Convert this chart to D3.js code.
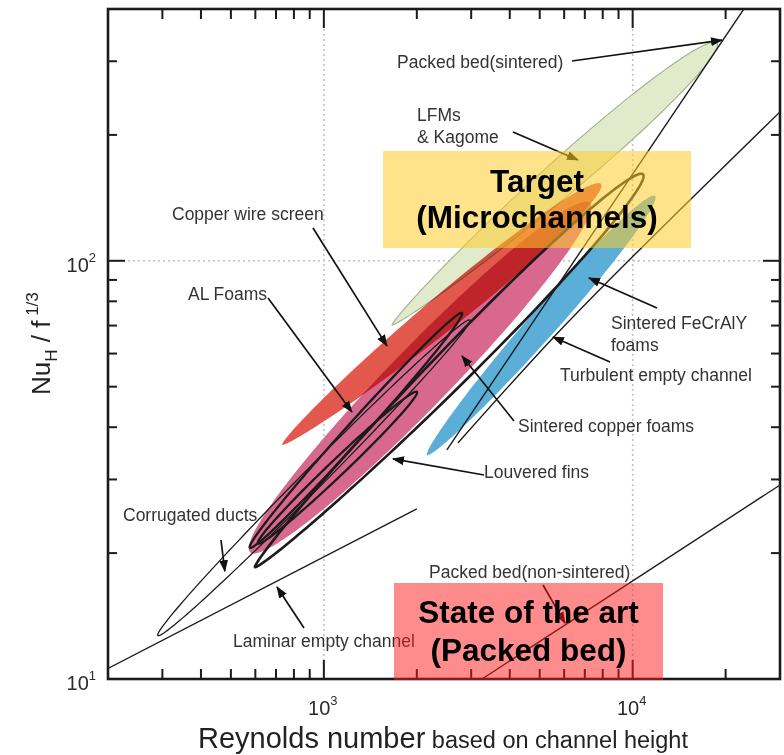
<!DOCTYPE html>
<html>
<head>
<meta charset="utf-8">
<script src="https://cdn.jsdelivr.net/npm/d3@7"></script>
<style>
  html, body { margin: 0; padding: 0; background: #fff; }
  svg { display: block; font-family: "Liberation Sans", Arial, Helvetica, sans-serif; }
</style>
</head>
<body>
<svg id="chart" width="784" height="755"></svg>
<script>
// ---- Axes ----------------------------------------------------------------
const reDomain = [200, 30000];          // Reynolds number
const nuDomain = [10, 400];             // Nu_H / f^(1/3)

const reMajorTicks = [1000, 10000];
const reMinorTicks = [300, 400, 500, 600, 700, 800, 900,
                      2000, 3000, 4000, 5000, 6000, 7000, 8000, 9000, 20000];
const nuMajorTicks = [100];
const nuMinorTicks = [20, 30, 40, 50, 60, 70, 80, 90, 200, 300];
const reTickLabels = [{ v: 1000, base: "10", exp: "3" }, { v: 10000, base: "10", exp: "4" }];
const nuTickLabels = [{ v: 100, base: "10", exp: "2" }, { v: 10, base: "10", exp: "1" }];
const gridRe = [1000, 10000];
const gridNu = [100];

// ---- Shaded performance regions (lower tip, upper tip, half-thickness in decades)
const filledNames  = ["Sintered copper foams", "Copper wire screen", "LFMs & Kagome", "Sintered FeCrAlY foams"];
const filledReLow  = [577, 732, 1662, 2157];
const filledNuLow  = [20.1, 36.3, 70.2, 34.3];
const filledReHigh = [7270, 7895, 18750, 11810];
const filledNuHigh = [137.5, 152.6, 331.8, 142.9];
const filledSpread = [0.072, 0.042, 0.043, 0.034];

// ---- Outlined regions
const outlineNames  = ["Corrugated ducts", "Louvered fins", "Al foams (high Re)", "Al foams"];
const outlineReLow  = [290, 598, 576, 612];
const outlineNuLow  = [12.7, 18.5, 20.6, 21.1];
const outlineReHigh = [2972, 10800, 2801, 2002];
const outlineNuHigh = [72.2, 161, 75.0, 48.6];
const outlineSpread = [0.025, 0.045, 0.0215, 0.019];

// ---- Correlation lines
const laminarRe = [200, 2000];
const laminarNu = [10.6, 25.5];
const turbulentRe = [2719, 5520, 15330, 30000];
const turbulentNu = [36.7, 65.4, 139.8, 227];
const packedSinteredRe = [2503, 25000];
const packedSinteredNu = [35.3, 440];
const packedLooseRe = [3251, 30000];
const packedLooseNu = [10, 29.1];

// ---- Styles (shape taper: 1 = ellipse, >1 = fuller toward the high-Re end)
const filledColors = ["#d8688e", "#e2584d", "#e1eacb", "#5aaed7"];
const filledStroke = ["none", "none", "#a3b08e", "none"];
const filledTaper = [1.0, 1.3, 1.4, 1.15];
const outlineWidths = [1.3, 2.6, 2.3, 2.3];
const outlineTaper = [1.0, 1.3, 1.0, 1.0];

// ---- Layout
const plot = { left: 108, right: 780, top: 9, bottom: 679 };
const svg = d3.select("#chart");
const x = d3.scaleLog().domain(reDomain).range([plot.left, plot.right]);
const y = d3.scaleLog().domain(nuDomain).range([plot.bottom, plot.top]);
const pxPerDecade = y(10) - y(100);
const ink = "#1b1b1b";
const textInk = "#333";

const defs = svg.append("defs");
defs.append("clipPath").attr("id", "plotClip").append("rect")
  .attr("x", plot.left).attr("y", plot.top)
  .attr("width", plot.right - plot.left).attr("height", plot.bottom - plot.top);
defs.append("marker").attr("id", "head")
  .attr("viewBox", "0 -5 12 10").attr("refX", 11).attr("refY", 0)
  .attr("markerWidth", 12).attr("markerHeight", 10)
  .attr("markerUnits", "userSpaceOnUse").attr("orient", "auto")
  .append("path").attr("d", "M0,-4.5L12,0L0,4.5Z").attr("fill", "#111");

// dotted grid at the decades
const grid = svg.append("g").attr("stroke", "#c2c2c2").attr("stroke-width", 1.6)
  .attr("stroke-dasharray", "2,3");
gridRe.forEach(v => grid.append("line")
  .attr("x1", x(v)).attr("x2", x(v)).attr("y1", plot.top).attr("y2", plot.bottom));
gridNu.forEach(v => grid.append("line")
  .attr("x1", plot.left).attr("x2", plot.right).attr("y1", y(v)).attr("y2", y(v)));

// closed lobe in log-log space between two tips; taper shifts the widest point
function lobePath(reLo, nuLo, reHi, nuHi, spread, taper) {
  const x1 = x(reLo), y1 = y(nuLo), x2 = x(reHi), y2 = y(nuHi);
  const L = Math.hypot(x2 - x1, y2 - y1);
  const ux = (x2 - x1) / L, uy = (y2 - y1) / L;
  const nx = -uy, ny = ux;
  const b = spread * pxPerDecade;
  const N = 90, upper = [], lower = [];
  for (let i = 0; i <= N; i++) {
    const t = (1 - Math.cos(Math.PI * i / N)) / 2;
    const u = Math.pow(t, taper);
    const w = b * Math.sqrt(Math.max(0, 1 - (2 * u - 1) * (2 * u - 1)));
    const px = x1 + ux * L * t, py = y1 + uy * L * t;
    upper.push([px + nx * w, py + ny * w]);
    lower.push([px - nx * w, py - ny * w]);
  }
  return d3.line()(upper.concat(lower.reverse())) + "Z";
}

const body = svg.append("g").attr("clip-path", "url(#plotClip)");

const filledData = filledNames.map((n, i) => ({
  name: n, color: filledColors[i], stroke: filledStroke[i],
  d: lobePath(filledReLow[i], filledNuLow[i], filledReHigh[i], filledNuHigh[i], filledSpread[i], filledTaper[i])
}));
body.append("g").selectAll("path").data(filledData).join("path")
  .attr("d", d => d.d)
  .attr("fill", d => d.color)
  .attr("stroke", d => d.stroke).attr("stroke-width", 1.1)
  .style("mix-blend-mode", "multiply");

// correlation lines
const line = d3.line().x(d => x(d[0])).y(d => y(d[1])).curve(d3.curveMonotoneX);
const curves = [
  { re: laminarRe, nu: laminarNu },
  { re: turbulentRe, nu: turbulentNu },
  { re: packedSinteredRe, nu: packedSinteredNu },
  { re: packedLooseRe, nu: packedLooseNu }
];
body.append("g").selectAll("path").data(curves).join("path")
  .attr("d", c => line(c.re.map((r, i) => [r, c.nu[i]])))
  .attr("fill", "none").attr("stroke", ink).attr("stroke-width", 1.4);

const outlineData = outlineNames.map((n, i) => ({
  name: n, width: outlineWidths[i],
  d: lobePath(outlineReLow[i], outlineNuLow[i], outlineReHigh[i], outlineNuHigh[i], outlineSpread[i], outlineTaper[i])
}));
body.append("g").selectAll("path").data(outlineData).join("path")
  .attr("d", d => d.d)
  .attr("fill", "none").attr("stroke", ink).attr("stroke-width", d => d.width)
  .attr("stroke-linejoin", "round");

// ---- Annotations: label lines, label anchor, arrow start and arrow target (Re, Nu)
const annotations = [
  { lines: ["Packed bed(sintered)"], tx: 397, ty: 68, from: [572, 61], re: 19460, nu: 337 },
  { lines: ["LFMs", "& Kagome"], tx: 417, ty: 121, from: [513, 132], re: 6651, nu: 174.2 },
  { lines: ["Copper wire screen"], tx: 172, ty: 220, from: [313, 228], re: 1601, nu: 62.6 },
  { lines: ["AL Foams"], tx: 188, ty: 300, from: [268, 298], re: 1233, nu: 43.5 },
  { lines: ["Sintered FeCrAlY", "foams"], tx: 611, ty: 329, from: [657, 308], re: 7220, nu: 91.0 },
  { lines: ["Turbulent empty channel"], tx: 560, ty: 381, from: [610, 362], re: 5520, nu: 65.7 },
  { lines: ["Sintered copper foams"], tx: 518, ty: 432, from: [514, 421], re: 2801, nu: 59.2 },
  { lines: ["Louvered fins"], tx: 484, ty: 478, from: [484, 475], re: 1674, nu: 33.6 },
  { lines: ["Corrugated ducts"], tx: 123, ty: 521, from: [221, 540], re: 478, nu: 18.1 },
  { lines: ["Laminar empty channel"], tx: 233, ty: 647, from: [304, 628], re: 705, nu: 16.6 },
  { lines: ["Packed bed(non-sintered)"], tx: 429, ty: 578, from: [543, 585], re: 6037, nu: 13.6 }
];

const ann = svg.append("g");
annotations.forEach(a => {
  ann.append("line")
    .attr("x1", a.from[0]).attr("y1", a.from[1])
    .attr("x2", x(a.re)).attr("y2", y(a.nu))
    .attr("stroke", "#111").attr("stroke-width", 1.7)
    .attr("marker-end", "url(#head)");
  const t = ann.append("text").attr("x", a.tx).attr("y", a.ty)
    .attr("font-size", 17.5).attr("fill", textInk);
  a.lines.forEach((s, i) => t.append("tspan")
    .attr("x", a.tx).attr("dy", i === 0 ? 0 : 22).text(s));
});

// ---- Frame and ticks
svg.append("rect")
  .attr("x", plot.left).attr("y", plot.top)
  .attr("width", plot.right - plot.left).attr("height", plot.bottom - plot.top)
  .attr("fill", "none").attr("stroke", ink).attr("stroke-width", 2.6);

const ticks = svg.append("g").attr("stroke", ink).attr("stroke-width", 2);
function xTicks(vals, len) {
  vals.forEach(v => {
    ticks.append("line").attr("x1", x(v)).attr("x2", x(v)).attr("y1", plot.bottom).attr("y2", plot.bottom - len);
    ticks.append("line").attr("x1", x(v)).attr("x2", x(v)).attr("y1", plot.top).attr("y2", plot.top + len);
  });
}
function yTicks(vals, len) {
  vals.forEach(v => {
    ticks.append("line").attr("y1", y(v)).attr("y2", y(v)).attr("x1", plot.left).attr("x2", plot.left + len);
    ticks.append("line").attr("y1", y(v)).attr("y2", y(v)).attr("x1", plot.right).attr("x2", plot.right - len);
  });
}
xTicks(reMajorTicks, 19);
xTicks(reMinorTicks, 10);
yTicks(nuMajorTicks, 17);
yTicks(nuMinorTicks, 9);

// tick labels
const tl = svg.append("g").attr("fill", "#2a2a2a");
reTickLabels.forEach(d => {
  const t = tl.append("text").attr("x", x(d.v) - 1).attr("y", 715)
    .attr("text-anchor", "middle").attr("font-size", 20);
  t.append("tspan").text(d.base);
  t.append("tspan").attr("font-size", 13).attr("dy", -10).text(d.exp);
});
nuTickLabels.forEach(d => {
  const t = tl.append("text").attr("x", 96).attr("y", y(d.v) + 11)
    .attr("text-anchor", "end").attr("font-size", 20);
  t.append("tspan").text(d.base);
  t.append("tspan").attr("font-size", 13).attr("dy", -10).text(d.exp);
});

// axis titles
const xt = svg.append("text").attr("x", 198).attr("y", 748).attr("fill", "#222");
xt.append("tspan").attr("font-size", 29).text("Reynolds number");
xt.append("tspan").attr("font-size", 23.5).text(" based on channel height");

const yt = svg.append("text").attr("transform", "translate(50,395) rotate(-90)").attr("fill", "#222");
yt.append("tspan").attr("font-size", 26).text("Nu");
yt.append("tspan").attr("font-size", 17).attr("dy", 7).text("H");
yt.append("tspan").attr("font-size", 26).attr("dy", -7).text(" / f");
yt.append("tspan").attr("font-size", 17).attr("dy", -12).text(" 1/3");

// ---- Highlight boxes
const boxes = [
  { x0: 383, y0: 151, x1: 691, y1: 248, fill: "#ffcc29", opacity: 0.55,
    lines: ["Target", "(Microchannels)"], base: [192, 228] },
  { x0: 394, y0: 583, x1: 663, y1: 680, fill: "#ff1a1a", opacity: 0.5,
    lines: ["State of the art", "(Packed bed)"], base: [623, 661] }
];
boxes.forEach(b => {
  svg.append("rect").attr("x", b.x0).attr("y", b.y0)
    .attr("width", b.x1 - b.x0).attr("height", b.y1 - b.y0)
    .attr("fill", b.fill).attr("fill-opacity", b.opacity);
  b.lines.forEach((s, i) => svg.append("text")
    .attr("x", (b.x0 + b.x1) / 2).attr("y", b.base[i])
    .attr("text-anchor", "middle").attr("font-size", 31.5).attr("font-weight", "bold")
    .attr("fill", "#000").text(s));
});
</script>
</body>
</html>
